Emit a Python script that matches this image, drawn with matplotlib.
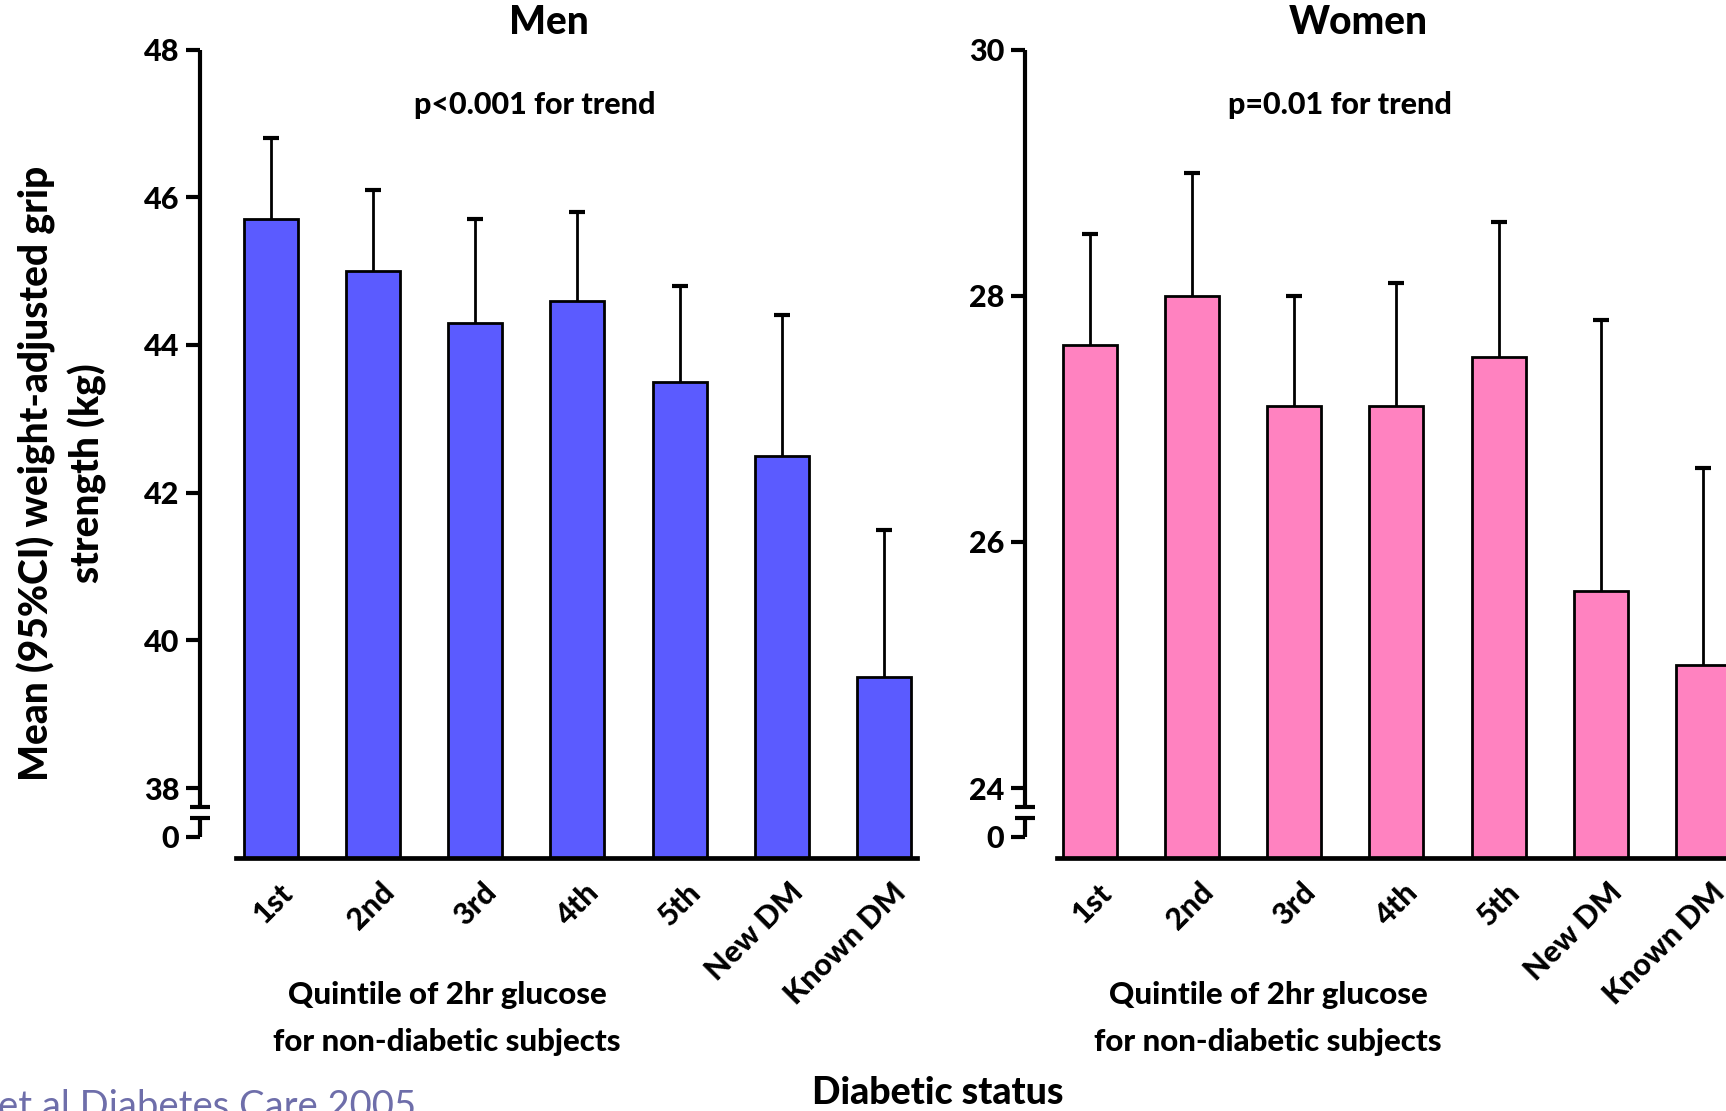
import numpy as np
import matplotlib
matplotlib.use("Agg")
import matplotlib.pyplot as plt
from matplotlib import transforms

plt.rcParams['font.family'] = ['Lato', 'DejaVu Sans']
plt.rcParams['font.weight'] = 'black'

# data
groups = ['1st', '2nd', '3rd', '4th', '5th', 'New DM', 'Known DM']
men_mean = [45.7, 45.0, 44.3, 44.6, 43.5, 42.5, 39.5]
men_upper = [46.8, 46.1, 45.7, 45.8, 44.8, 44.4, 41.5]
women_mean = [27.6, 28.0, 27.1, 27.1, 27.5, 25.6, 25.0]
women_upper = [28.5, 29.0, 28.0, 28.1, 28.6, 27.8, 26.6]
men_ticks = [0, 38, 40, 42, 44, 46, 48]
women_ticks = [0, 24, 26, 28, 30]

# layout in pixels
W, H = 1726, 1111
AX_TOP, AX_BOT = 49.5, 858
SEG_PX = 49      # height of the compressed 0..break piece
BASE_PX = 21     # x axis sits below the zero tick
BRK1_PX, BRK2_PX = 18.7, 30
STEP = 102.2
BAR_W = 0.53

fig = plt.figure(figsize=(W / 100, H / 100), dpi=100)


def fx(x):
    return x / W


def fy(y):
    return 1 - y / H


def panel(left, right, axis_start, first_center, mean, upper, color, brk, top, ticks):
    ax = fig.add_axes([fx(left), fy(AX_BOT), (right - left) / W, (AX_BOT - AX_TOP) / H])

    # broken y axis: linear above brk, squeezed below it
    unit_px = (AX_BOT - AX_TOP - SEG_PX - BASE_PX) / (top - brk)
    k = SEG_PX / unit_px / brk

    def fwd(v):
        v = np.asarray(v, float)
        return np.where(v >= brk, v, brk - (brk - v) * k)

    def inv(s):
        s = np.asarray(s, float)
        return np.where(s >= brk, s, brk - (brk - s) / k)

    ax.set_yscale('function', functions=(fwd, inv))
    ymin = -BASE_PX * brk / SEG_PX
    ax.set_ylim(ymin, top)

    x = np.arange(len(groups))
    ax.set_xlim((left - first_center) / STEP, (right - first_center) / STEP)
    ax.bar(x, np.array(mean) - ymin, bottom=ymin, width=BAR_W, color=color,
           edgecolor='black', linewidth=2, zorder=2)
    ax.vlines(x, mean, upper, color='black', linewidth=2, zorder=1)
    ax.plot(x, upper, ls='none', marker='_', ms=11, mew=3, color='black', zorder=3)

    # axes lines
    for s in ['top', 'right', 'left']:
        ax.spines[s].set_visible(False)
    ax.spines['bottom'].set_linewidth(3.4)
    ax.spines['bottom'].set_bounds((axis_start - first_center) / STEP, (right - first_center) / STEP)

    trans = ax.get_yaxis_transform()
    b1 = brk - BRK1_PX * brk / SEG_PX
    b2 = brk - BRK2_PX * brk / SEG_PX
    d = 10 / (right - left)
    ax.plot([0, 0], [top, b1], transform=trans, color='black', lw=3, clip_on=False, solid_capstyle='butt')
    ax.plot([0, 0], [b2, 0], transform=trans, color='black', lw=3, clip_on=False, solid_capstyle='butt')
    ax.plot([-d, d], [b1, b1], transform=trans, color='black', lw=3, clip_on=False, solid_capstyle='butt')
    ax.plot([-d, d], [b2, b2], transform=trans, color='black', lw=3, clip_on=False, solid_capstyle='butt')

    ax.set_yticks(ticks)
    ax.set_yticklabels([str(t) for t in ticks])
    ax.yaxis.set_minor_locator(matplotlib.ticker.NullLocator())
    ax.tick_params(axis='y', width=3, length=10, labelsize=22, pad=5)
    ax.tick_params(axis='x', length=0, pad=21.6, labelsize=22)
    ax.set_xticks(x)
    ax.set_xticklabels(groups, rotation=45, ha='right', va='center', rotation_mode='anchor')
    shift = transforms.ScaledTranslation(0.17, 0, fig.dpi_scale_trans)
    for lab in ax.get_xticklabels():
        lab.set_transform(lab.get_transform() + shift)
    return ax


panel(200, 917, 236, 270.8, men_mean, men_upper, '#5b5bff', 38, 48, men_ticks)
panel(1025, 1726, 1057, 1089.8, women_mean, women_upper, '#ff82c0', 24, 30, women_ticks)

# texts
fig.text(fx(549), fy(22), 'Men', fontsize=28, ha='center', va='center')
fig.text(fx(1358), fy(22), 'Women', fontsize=28, ha='center', va='center')
fig.text(fx(535), fy(105), 'p<0.001 for trend', fontsize=22, ha='center', va='center')
fig.text(fx(1340), fy(105), 'p=0.01 for trend', fontsize=22, ha='center', va='center')
for cx in [447, 1268]:
    fig.text(fx(cx), fy(995), 'Quintile of 2hr glucose', fontsize=22.5, ha='center', va='center')
    fig.text(fx(cx), fy(1042), 'for non-diabetic subjects', fontsize=22.5, ha='center', va='center')
fig.text(fx(938), fy(1093), 'Diabetic status', fontsize=27, ha='center', va='center')
fig.text(fx(62), fy(473), 'Mean (95%CI) weight-adjusted grip\nstrength (kg)', fontsize=28,
         rotation=90, ha='center', va='center', linespacing=1.35)
fig.text(fx(416), fy(1118), 'et al Diabetes Care 2005', fontsize=27.5, fontweight='normal',
         color='#6e6eaa', ha='right', va='baseline')

fig.savefig('out.png', dpi=100)
